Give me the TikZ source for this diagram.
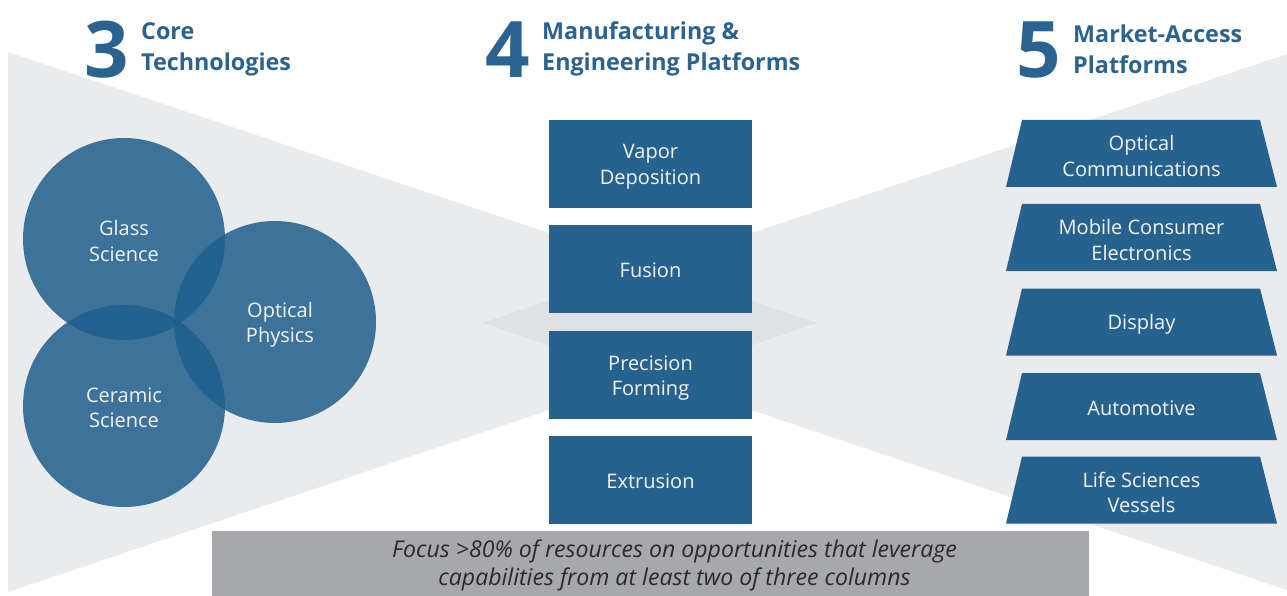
\documentclass[tikz,border=0pt]{standalone}
\usepackage{fontspec}
\setmainfont{Open Sans}
\usetikzlibrary{shapes.geometric}
\definecolor{bgray}{HTML}{EAEBED}
\definecolor{dgray}{HTML}{E0E1E3}
\definecolor{cblue}{HTML}{27628F}
\definecolor{hblue}{HTML}{2A6290}
\definecolor{circ}{HTML}{1F5E8C}
\definecolor{bannerc}{HTML}{A7A8AC}
\definecolor{wtext}{HTML}{F2F4F6}
\definecolor{btext}{HTML}{2A2A2A}
\tikzset{
  lbl/.style={font=\fontsize{20}{25.5}\selectfont, text=wtext, align=center},
  core/.style={circle, minimum size=202pt, inner sep=0pt, fill=circ, fill opacity=.85},
  mbox/.style={rectangle, minimum width=203pt, minimum height=88pt, inner sep=0pt, fill=cblue},
  mkt/.style={fill=cblue},
  bignum/.style={font=\fontsize{78}{78}\bfseries\selectfont, text=hblue, inner sep=0pt},
  head/.style={font=\fontsize{23.3}{31}\bfseries\selectfont, text=hblue, align=left, inner sep=0pt, anchor=west},
}
% trapezoid centred at y = #1, named #2
\newcommand\mktshape[2]{%
  \fill[mkt] (1006,#1+33.5) -- (1022,#1-33.5) -- (1260,#1-33.5) -- (1277,#1+33.5) -- cycle;
  \coordinate (#2) at (1141.5,#1);}
\begin{document}
\begin{tikzpicture}[x=1pt,y=-1pt]
\useasboundingbox (0,0) rectangle (1287,596);
\fill[bgray] (8,52) -- (650,267) -- (1287,54) -- (1287,590) -- (650,376) -- (8,592) -- cycle;
\fill[dgray] (483,323) -- (650,266) -- (817,323) -- (650,380) -- cycle;

% core technologies
\node[core] (glass) at (124,239) {};
\node[core] (ceramic) at (124,406) {};
\node[core] (optical) at (275,322) {};
\node[lbl] (glasslbl) at (124,241) {Glass\\Science};
\node[lbl] (ceramiclbl) at (124,408) {Ceramic\\Science};
\node[lbl] (opticallbl) at (280,325) {Optical\\Physics};

% manufacturing platforms
\node[mbox] (vapor) at (650.5,164) {};
\node[mbox] (fusion) at (650.5,269) {};
\node[mbox] (precision) at (650.5,375) {};
\node[mbox] (extrusion) at (650.5,479.5) {};
\node[lbl] (vaporlbl) at ([yshift=-3pt]vapor.center) {Vapor\\Deposition};
\node[lbl] (fusionlbl) at ([yshift=-1.5pt]fusion.center) {Fusion};
\node[lbl] (precisionlbl) at ([yshift=-3pt]precision.center) {Precision\\Forming};
\node[lbl] (extrusionlbl) at ([yshift=-1.5pt]extrusion.center) {Extrusion};

% market access platforms
\mktshape{153.5}{optcomm}
\mktshape{237.5}{mobile}
\mktshape{322}{display}
\mktshape{406.5}{auto}
\mktshape{490}{life}
\node[lbl] (optcommlbl) at ([yshift=-2.5pt]optcomm) {Optical\\Communications};
\node[lbl] (mobilelbl) at ([yshift=-2.5pt]mobile) {Mobile Consumer\\Electronics};
\node[lbl] (displaylbl) at ([yshift=-2.5pt]display) {Display};
\node[lbl] (autolbl) at ([yshift=-2pt]auto) {Automotive};
\node[lbl] (lifelbl) at ([yshift=-2.5pt]life) {Life Sciences\\Vessels};

% headers
\node[bignum] (n3) at (107,50) {3};
\node[head] (h3) at (141,49) {Core\\Technologies};
\node[bignum] (n4) at (508,50) {4};
\node[head] (h4) at (542,49) {Manufacturing \&\\Engineering Platforms};
\node[bignum] (n5) at (1039,50) {5};
\node[head] (h5) at (1073,49) {Market-Access\\Platforms};

% banner
\node[rectangle, fill=bannerc, minimum width=877pt, minimum height=65pt, inner sep=0pt] (banner) at (650.5,563.5) {};
\node[font=\fontsize{23.1}{28}\itshape\selectfont, text=btext, align=center, inner sep=0pt] (bannerlbl)
  at ([xshift=24pt,yshift=-2pt]banner.center)
  {Focus >80\% of resources on opportunities that leverage\\capabilities from at least two of three columns};
\end{tikzpicture}
\end{document}
